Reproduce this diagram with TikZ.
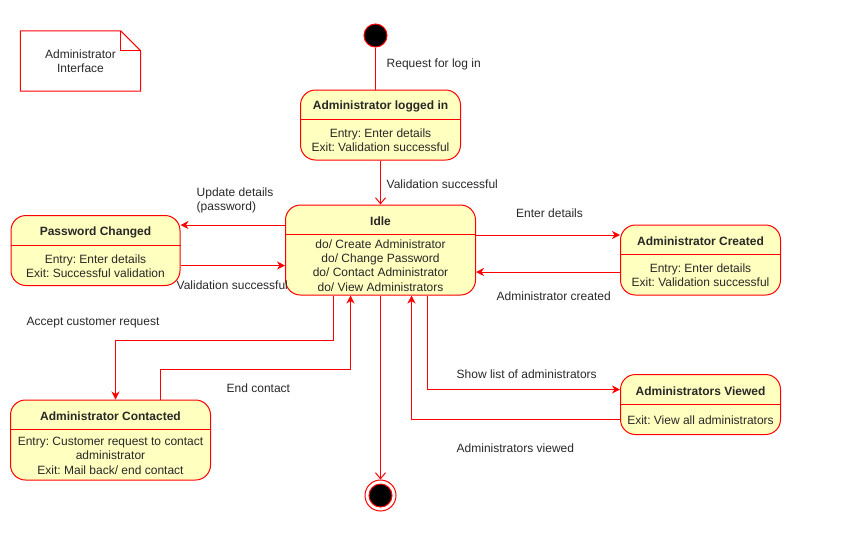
\documentclass[tikz,border=0pt]{standalone}
\usepackage{fontspec}
\setmainfont{Liberation Sans}
\frenchspacing
\usetikzlibrary{arrows.meta, positioning}
\definecolor{statefill}{RGB}{255, 255, 192}
\definecolor{linered}{RGB}{255, 0, 0}
\definecolor{textgray}{RGB}{40, 40, 40}

\begin{document}
\begin{tikzpicture}[
    x=1pt, y=-1pt,
    every node/.style={font=\fontsize{12}{14.4}\selectfont, text=textgray},
    state/.style={draw=linered, fill=statefill, rounded corners=15pt, line width=1pt, inner sep=0pt},
    statetitle/.style={font=\fontsize{12}{14.4}\selectfont\bfseries, inner sep=0pt},
    statebody/.style={align=center, inner sep=0pt},
    divider/.style={draw=linered, line width=1pt},
    startdot/.style={circle, draw=linered, fill=black, line width=1pt, minimum size=23pt, inner sep=0pt},
    endring/.style={circle, draw=linered, fill=white, line width=1pt, minimum size=31pt, inner sep=0pt},
    lbl/.style={inner sep=0pt, align=left},
    trans/.style={draw=linered, line width=1pt, -{Stealth[length=8pt, width=8pt, inset=2.5pt]}},
    openarrow/.style={draw=linered, line width=1pt, -{Straight Barb[length=6pt, width=10pt]}},
    noarrow/.style={draw=linered, line width=1pt}
]
\useasboundingbox (0,0) rectangle (850,539);

% Note
\node[minimum width=120pt, minimum height=60pt, align=center, inner sep=0pt] (note) at (80.5,61) {Administrator\\Interface};
\draw[noarrow] (note.south west) -- (note.north west) -- ([xshift=-20pt]note.north east)
    -- ([yshift=-20pt]note.north east) -- (note.south east) -- cycle;
\draw[noarrow] ([xshift=-20pt]note.north east) |- ([yshift=-20pt]note.north east);

% Pseudo states
\node[startdot] (start) at (375.5,35.5) {};
\node[endring] (stop) at (380.5,495.5) {};
\node[startdot, minimum size=23pt] (stopdot) at (stop) {};

% States
\node[state, minimum width=160pt, minimum height=70pt] (login) at (380.5,125) {};
\node[statetitle] (login-t) at ([yshift=-17pt]login.north) {Administrator logged in};
\draw[divider] ([yshift=-30pt]login.north west) -- ([yshift=-30pt]login.north east);
\node[statebody] (login-b) at ([yshift=-15.5pt]login.center) {Entry: Enter details\\Exit: Validation successful};

\node[state, minimum width=190pt, minimum height=90pt] (idle) at (380.5,250) {};
\node[statetitle] (idle-t) at ([yshift=-17pt]idle.north) {Idle};
\draw[divider] ([yshift=-30pt]idle.north west) -- ([yshift=-30pt]idle.north east);
\node[statebody] (idle-b) at ([yshift=-15.5pt]idle.center) {do/ Create Administrator\\do/ Change Password\\do/ Contact Administrator\\do/ View Administrators};

\node[state, minimum width=169pt, minimum height=70pt] (pwd) at (95.5,250.5) {};
\node[statetitle] (pwd-t) at ([yshift=-17pt]pwd.north) {Password Changed};
\draw[divider] ([yshift=-30pt]pwd.north west) -- ([yshift=-30pt]pwd.north east);
\node[statebody] (pwd-b) at ([yshift=-15.5pt]pwd.center) {Entry: Enter details\\Exit: Successful validation};

\node[state, minimum width=160pt, minimum height=70pt] (created) at (700.5,260) {};
\node[statetitle] (created-t) at ([yshift=-17pt]created.north) {Administrator Created};
\draw[divider] ([yshift=-30pt]created.north west) -- ([yshift=-30pt]created.north east);
\node[statebody] (created-b) at ([yshift=-15.5pt]created.center) {Entry: Enter details\\Exit: Validation successful};

\node[state, minimum width=200pt, minimum height=80pt] (contacted) at (110.5,440) {};
\node[statetitle] (contacted-t) at ([yshift=-17pt]contacted.north) {Administrator Contacted};
\draw[divider] ([yshift=-30pt]contacted.north west) -- ([yshift=-30pt]contacted.north east);
\node[statebody] (contacted-b) at ([yshift=-15.5pt]contacted.center) {Entry: Customer request to contact\\administrator\\Exit: Mail back/ end contact};

\node[state, minimum width=160pt, minimum height=60pt] (viewed) at (700.5,404.5) {};
\node[statetitle] (viewed-t) at ([yshift=-17pt]viewed.north) {Administrators Viewed};
\draw[divider] ([yshift=-30pt]viewed.north west) -- ([yshift=-30pt]viewed.north east);
\node[statebody] (viewed-b) at ([yshift=-15.5pt]viewed.center) {Exit: View all administrators};

% Transitions
\draw[noarrow] (start) -- (start |- login.north);
\draw[openarrow] (login.south) -- (login.south |- idle.north);
\draw[trans] ([yshift=25pt]idle.west) -- ([yshift=25pt]idle.west -| pwd.east);
\draw[trans] ([yshift=-15pt]pwd.east) -- ([yshift=-15pt]pwd.east -| idle.west);
\draw[trans] ([yshift=15pt]idle.east) -- ([yshift=15pt]idle.east -| created.west);
\draw[trans] ([yshift=-12pt]created.west) -- ([yshift=-12pt]created.west -| idle.east);
\draw[trans] ([xshift=-47pt]idle.south) -- ++(0,45) -| ([xshift=5pt]contacted.north);
\draw[trans] ([xshift=50pt]contacted.north) -- ++(0,-30) -| ([xshift=-30pt]idle.south);
\draw[openarrow] (idle.south) -- (idle.south |- stop.north);
\draw[trans] ([xshift=47pt]idle.south) |- ([yshift=15pt]viewed.west);
\draw[trans] ([yshift=-15pt]viewed.west) -| ([xshift=31pt]idle.south);

% Transition labels
\node[lbl, anchor=west] (l-req) at (386.5,64.5) {Request for log in};
\node[lbl, anchor=west] (l-valid) at (386.5,184.5) {Validation successful};
\node[lbl, anchor=west] (l-update) at (196.5,200.5) {Update details\\(password)};
\node[lbl, anchor=west] (l-pwdok) at (176.5,285) {Validation successful};
\node[lbl] (l-enter) at (549.5,213.5) {Enter details};
\node[lbl, anchor=west] (l-created) at (496.5,296.5) {Administrator created};
\node[lbl, anchor=west] (l-accept) at (26.5,322.5) {Accept customer request};
\node[lbl, anchor=west] (l-end) at (226.5,388.5) {End contact};
\node[lbl, anchor=west] (l-show) at (456.5,374.5) {Show list of administrators};
\node[lbl, anchor=west] (l-viewed) at (456.5,448.5) {Administrators viewed};

\end{tikzpicture}
\end{document}
